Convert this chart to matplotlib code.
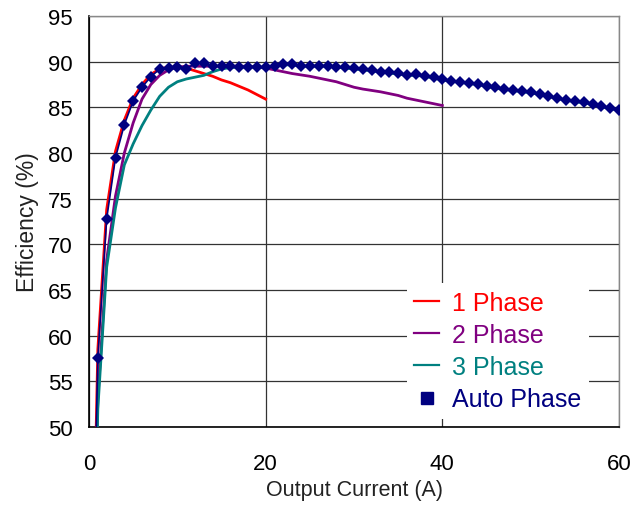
import numpy as np
import matplotlib.pyplot as plt
from matplotlib.lines import Line2D

plt.rcParams['font.family'] = ['Liberation Sans', 'DejaVu Sans']

# ── data ─────────────────────────────────────────────────────────────────────
x_1ph = [0.6] + list(range(1, 21))
eff_1ph = [40, 58.5, 73.8, 80.2, 83.6, 86.0, 87.5, 88.6, 89.2, 89.4, 89.4,
           89.3, 89.0, 88.7, 88.4, 88.0, 87.7, 87.3, 86.9, 86.4, 85.9]

x_2ph = [0.6] + list(range(1, 41))
eff_2ph = [38, 53.0, 68.3, 75.3, 80.0, 83.3, 85.9, 87.5, 88.5, 89.1, 89.4,
           89.5, 89.5, 89.5, 89.5, 89.5, 89.5, 89.5, 89.5, 89.4, 89.3,
           89.1, 88.9, 88.7, 88.55, 88.4, 88.2, 88.0, 87.8, 87.5, 87.2,
           87.0, 86.85, 86.7, 86.5, 86.3, 86.0, 85.8, 85.6, 85.4, 85.2]

x_3ph = [0.6] + list(range(1, 61))
eff_3ph = [36, 52.0, 67.5, 74.0, 78.7, 81.0, 83.0, 84.7, 86.2, 87.2, 87.8,
           88.1, 88.3, 88.5, 88.9, 89.2, 89.35, 89.4, 89.4, 89.4, 89.4,
           89.5, 89.65, 89.65, 89.5, 89.5, 89.5, 89.5, 89.4, 89.3, 89.2,
           89.1, 89.0, 88.85, 88.75, 88.65, 88.5, 88.5, 88.4, 88.2, 88.0,
           87.85, 87.75, 87.6, 87.5, 87.3, 87.1, 86.95, 86.85, 86.7, 86.6,
           86.4, 86.2, 85.95, 85.8, 85.6, 85.5, 85.3, 85.05, 84.85, 84.7]

x_auto = [0.6] + list(range(1, 61))
eff_auto = [40, 57.6, 72.8, 79.5, 83.1, 85.7, 87.2, 88.35, 89.2, 89.3, 89.4,
            89.2, 89.8, 89.8, 89.56, 89.5, 89.5, 89.4, 89.4, 89.4, 89.4,
            89.5, 89.74, 89.74, 89.56, 89.56, 89.56, 89.56, 89.45, 89.38, 89.27,
            89.2, 89.09, 88.9, 88.83, 88.72, 88.57, 88.6, 88.46, 88.28, 88.1,
            87.91, 87.8, 87.66, 87.55, 87.37, 87.19, 87.0, 86.9, 86.75, 86.64,
            86.46, 86.27, 85.98, 85.83, 85.66, 85.55, 85.36, 85.1, 84.9, 84.75]

labels = ["1 Phase", "2 Phase", "3 Phase", "Auto Phase"]
c_red, c_purple, c_teal, c_navy = "#FF0000", "#800080", "#008080", "#000080"

# ── figure ───────────────────────────────────────────────────────────────────
fig = plt.figure(figsize=(6.43, 5.06), dpi=100)
ax = fig.add_axes([89 / 643, 1 - 428 / 506, 530 / 643, 411 / 506])

ax.plot(x_1ph, eff_1ph, color=c_red, lw=2.0, zorder=3)
ax.plot(x_2ph, eff_2ph, color=c_purple, lw=2.0, zorder=3)
ax.plot(x_3ph, eff_3ph, color=c_teal, lw=2.0, zorder=3)
ax.plot(x_auto, eff_auto, color=c_navy, lw=1.2, marker="D", ms=6.5,
        markeredgewidth=0, zorder=4)

ax.set_xlim(0, 60)
ax.set_ylim(50, 95)
ax.set_xticks([0, 20, 40, 60])
ax.set_yticks(np.arange(50, 96, 5))
ax.grid(True, color="#333333", lw=0.9)
ax.set_axisbelow(True)
ax.tick_params(length=0, labelsize=16, colors="black")
ax.tick_params(axis="x", pad=19)
ax.tick_params(axis="y", pad=12)

for side in ["left", "bottom"]:
    ax.spines[side].set_color("black")
    ax.spines[side].set_linewidth(1.2)
for side in ["top", "right"]:
    ax.spines[side].set_color("#888888")
    ax.spines[side].set_linewidth(1.0)

ax.set_xlabel("Output Current (A)", fontsize=15.5, color="#222222", labelpad=3)
ax.set_ylabel("Efficiency (%)", fontsize=16.5, color="#222222", labelpad=6)

handles = [
    Line2D([], [], color=c_red, lw=1.6),
    Line2D([], [], color=c_purple, lw=1.6),
    Line2D([], [], color=c_teal, lw=1.6),
    Line2D([], [], color=c_navy, lw=0, marker="s", ms=8),
]
leg = ax.legend(handles, labels, loc="center", bbox_to_anchor=(0.771, 0.185),
                frameon=True, framealpha=1, edgecolor="none", fontsize=18,
                handlelength=1.0, handletextpad=0.5, labelspacing=0.33,
                borderpad=0.3)
for txt, col in zip(leg.get_texts(), [c_red, c_purple, c_teal, c_navy]):
    txt.set_color(col)

fig.savefig("out.png", dpi=100)
